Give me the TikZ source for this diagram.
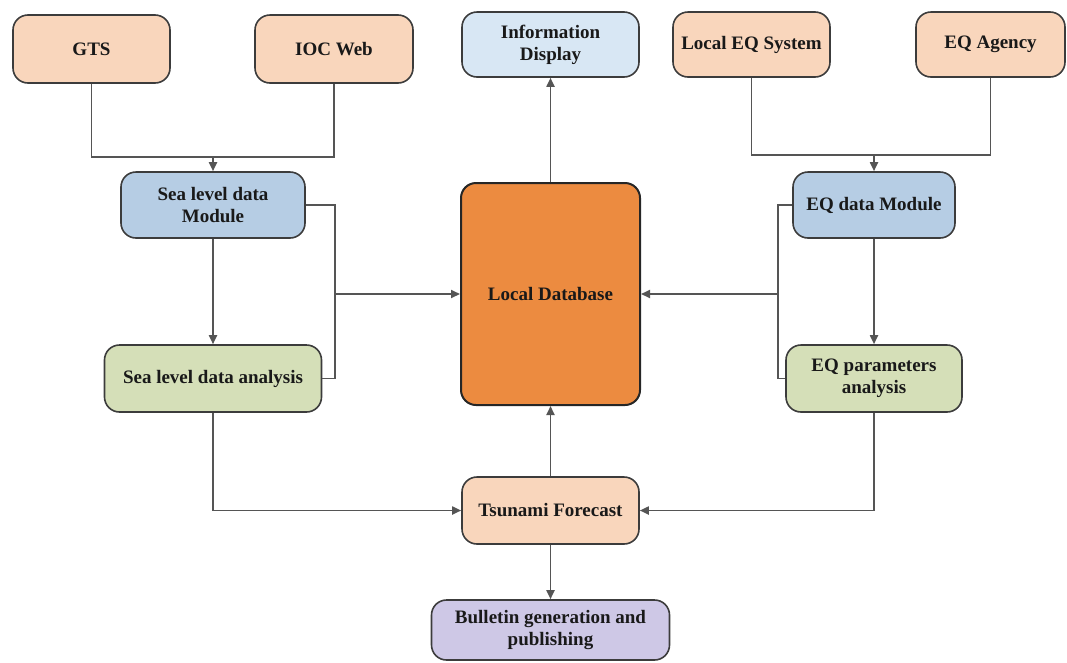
\documentclass[tikz,border=0pt]{standalone}
\usepackage{fontspec}
\setmainfont{Liberation Serif}
\usetikzlibrary{arrows.meta}
\definecolor{peach}{RGB}{249,214,188}
\definecolor{lblue}{RGB}{216,231,244}
\definecolor{mblue}{RGB}{182,205,228}
\definecolor{lgreen}{RGB}{213,223,184}
\definecolor{dborange}{RGB}{236,139,64}
\definecolor{lpurple}{RGB}{206,200,230}
\definecolor{edge}{RGB}{60,60,60}
\definecolor{wire}{RGB}{85,85,85}
\tikzset{
  box/.style={draw=edge, line width=1.6pt, rounded corners=15pt, align=center,
    font=\fontsize{19}{22}\selectfont\bfseries, text=black!90, inner sep=2pt},
  conn/.style={draw=wire, line width=1.8pt},
  arr/.style={conn, -{Triangle[length=9pt,width=8pt]}}
}
\begin{document}
\begin{tikzpicture}[x=1pt,y=1pt]
\useasboundingbox (0,0) rectangle (1067,-662);
% top row
\node[box, fill=peach, minimum width=157pt, minimum height=68pt] (gts) at (91.5,-49) {GTS};
\node[box, fill=peach, minimum width=158pt, minimum height=68pt] (ioc) at (334,-49) {IOC Web};
\node[box, fill=lblue, minimum width=177pt, minimum height=65pt] (info) at (550.5,-44.5) {Information\\Display};
\node[box, fill=peach, minimum width=157pt, minimum height=65pt] (leq) at (751.5,-44.5) {Local EQ System};
\node[box, fill=peach, minimum width=149pt, minimum height=65pt] (eqag) at (990.5,-44.5) {EQ Agency};
% modules
\node[box, fill=mblue, minimum width=184pt, minimum height=66pt] (slm) at (213,-205) {Sea level data\\Module};
\node[box, fill=mblue, minimum width=162pt, minimum height=66pt] (eqm) at (874,-205) {EQ data Module};
% database
\node[box, draw=black!85, line width=2pt, fill=dborange, minimum width=179pt, minimum height=222pt] (db) at (550.5,-294) {Local Database};
% analysis
\node[box, fill=lgreen, minimum width=217pt, minimum height=67pt] (sla) at (213,-378.5) {Sea level data analysis};
\node[box, fill=lgreen, minimum width=176pt, minimum height=67pt] (eqa) at (874,-378.5) {EQ parameters\\analysis};
% forecast and bulletin
\node[box, fill=peach, minimum width=177pt, minimum height=67pt] (tf) at (550.5,-510.5) {Tsunami Forecast};
\node[box, fill=lpurple, minimum width=238pt, minimum height=60pt] (bul) at (550.5,-630) {Bulletin generation and\\publishing};
% junctions
\coordinate (tj1) at (213,-157);
\coordinate (tj2) at (874,-155);
\coordinate (sj) at (335,-294);
\coordinate (ej) at (778,-294);
% connectors
\draw[conn] (gts.south) |- (tj1) -| (ioc.south);
\draw[arr] (tj1) -- (slm.north);
\draw[conn] (leq.south) |- (tj2) -| (eqag.south);
\draw[arr] (tj2) -- (eqm.north);
\draw[arr] (slm.south) -- (sla.north);
\draw[arr] (eqm.south) -- (eqa.north);
\draw[conn] (slm.east) -| (sj) |- (sla.east);
\draw[arr] (sj) -- (db.west);
\draw[conn] (eqm.west) -| (ej) |- (eqa.west);
\draw[arr] (ej) -- (db.east);
\draw[arr] (db.north) -- (info.south);
\draw[arr] (sla.south) |- (tf.west);
\draw[arr] (eqa.south) |- (tf.east);
\draw[arr] (tf.north) -- (db.south);
\draw[arr] (tf.south) -- (bul.north);
\end{tikzpicture}
\end{document}
